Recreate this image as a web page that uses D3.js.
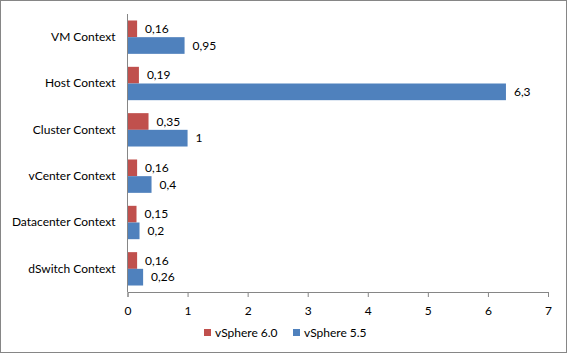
<!DOCTYPE html>
<html>
<head>
<meta charset="utf-8">
<script src="https://cdn.jsdelivr.net/npm/d3@7"></script>
<style>
body { margin: 0; background: #fff; }
text { font-family: Lato, sans-serif; font-size: 12px; fill: #000; }
</style>
</head>
<body>
<div id="root"></div>
<script>
const categories = ["VM Context", "Host Context", "Cluster Context", "vCenter Context", "Datacenter Context", "dSwitch Context"];
const seriesNames = ["vSphere 6.0", "vSphere 5.5"];
const v60 = [0.16, 0.19, 0.35, 0.16, 0.15, 0.16];
const v55 = [0.95, 6.3, 1, 0.4, 0.2, 0.26];
const xTicks = [0, 1, 2, 3, 4, 5, 6, 7];
const colors = ["#C0504D", "#4F81BD"];

const width = 568, height = 354;
const margin = { left: 127.5, right: 20, top: 14, bottom: 62 };
const font = "Lato, sans-serif";

const svg = d3.select("#root").append("svg")
	.attr("width", width)
	.attr("height", height);

svg.append("rect")
	.attr("x", 0.5).attr("y", 0.5)
	.attr("width", width - 2).attr("height", height - 2)
	.style("fill", "#fff")
	.style("stroke", "#868686");

const x = d3.scaleLinear().domain([0, 7]).range([margin.left, 548]);
const y = d3.scaleBand().domain(categories).range([margin.top, height - margin.bottom]).paddingInner(0.28).paddingOuter(0.14);
const sub = d3.scaleBand().domain(seriesNames).range([0, y.bandwidth()]);

const fmt = v => String(v).replace(".", ",");

const rows = categories.map((c, i) => ({ cat: c, vals: [v60[i], v55[i]] }));

const groups = svg.selectAll(".cat")
	.data(rows).enter()
	.append("g")
	.attr("class", "cat")
	.attr("transform", d => `translate(0, ${ y(d.cat) })`);

groups.selectAll("rect")
	.data(d => d.vals.map((v, j) => ({ v, s: seriesNames[j], j })))
	.enter().append("rect")
	.attr("x", x(0))
	.attr("y", d => sub(d.s))
	.attr("width", d => x(d.v) - x(0))
	.attr("height", sub.bandwidth())
	.style("fill", d => colors[d.j]);

groups.selectAll(".lbl")
	.data(d => d.vals.map((v, j) => ({ v, s: seriesNames[j], j })))
	.enter().append("text")
	.attr("class", "lbl")
	.attr("x", d => x(d.v) + 8)
	.attr("y", d => sub(d.s) + sub.bandwidth() / 2)
	.attr("dy", "0.35em")
	.text(d => fmt(d.v));

// x axis
const axisY = height - margin.bottom;
const xAxis = svg.append("g")
	.attr("transform", `translate(0, ${ axisY })`)
	.call(d3.axisBottom(x).tickValues(xTicks).tickFormat(d3.format("d")).tickSize(5).tickPadding(9));
xAxis.select(".domain").style("stroke", "#868686");
xAxis.selectAll(".tick line").style("stroke", "#868686");
xAxis.selectAll("text").style("font-family", font).style("font-size", "12px").style("fill", "#000");

// y axis
const yAxis = svg.append("g")
	.attr("transform", `translate(${ x(0) }, 0)`)
	.call(d3.axisLeft(y).tickSize(0).tickPadding(12));
yAxis.select(".domain").attr("d", `M0,${ margin.top }V${ axisY }`).style("stroke", "#868686");
yAxis.selectAll("text").style("font-family", font).style("font-size", "12px").style("fill", "#000");

// legend
const legendX = [204, 293];
const legend = svg.selectAll(".legend")
	.data(seriesNames).enter()
	.append("g")
	.attr("class", "legend")
	.attr("transform", (d, i) => `translate(${ legendX[i] }, 329)`);

legend.append("rect")
	.attr("width", 7).attr("height", 7)
	.style("fill", (d, i) => colors[i]);

legend.append("text")
	.attr("x", 11)
	.attr("y", 3.5)
	.attr("dy", "0.35em")
	.text(d => d);
</script>
</body>
</html>
